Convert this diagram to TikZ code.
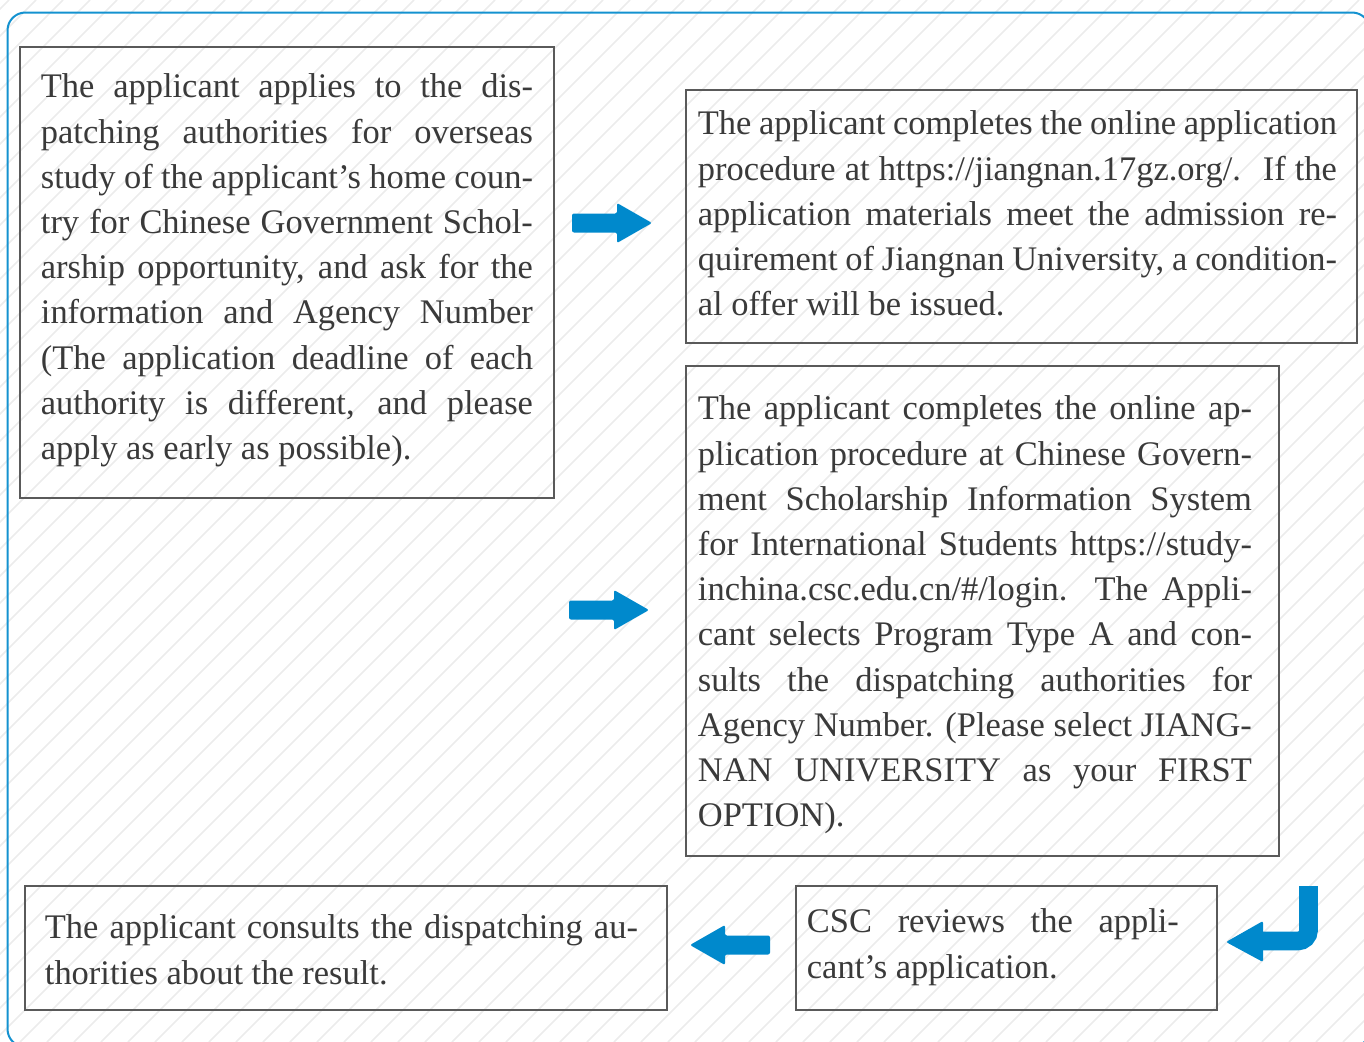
\documentclass[tikz,border=0pt]{standalone}
\usepackage{fontspec}
\setmainfont{Liberation Serif}
\definecolor{arrowblue}{RGB}{0,137,204}
\definecolor{frameblue}{RGB}{20,146,208}
\definecolor{boxgray}{RGB}{90,90,90}
\definecolor{textgray}{RGB}{58,58,58}
\definecolor{hatchgray}{RGB}{236,236,236}
\newlength{\rowwd}
\newcommand{\jrow}[1]{\leavevmode\hbox to\rowwd{\spaceskip=0pt\xspaceskip=0pt #1}\\}
\tikzset{
	stepbox/.style={draw=boxgray, line width=1.4pt, anchor=north west, inner ysep=0pt, align=flush left,
		text=textgray, font=\fontsize{25.85pt}{33.9pt}\selectfont},
	arrowfill/.style={fill=arrowblue, rounded corners=1.5pt},
	hatch/.style={draw=hatchgray, line width=1.1pt},
	goright/.pic={\fill[arrowfill] (0,-9.5) -- (45,-9.5) -- (45,-20) -- (80,0) -- (45,20) -- (45,9.5) -- (0,9.5) -- cycle;}
}

\begin{document}
\begin{tikzpicture}[x=0.75pt, y=-0.75pt]
	\useasboundingbox (0,0) rectangle (1364,1042);
	
	% Background hatching and frame
	\begin{scope}
		\clip (0,0) rectangle (1364,1042);
		\foreach \i in {-1060,-1033,...,1400}
			\draw[hatch] (\i,1042) -- ++(1042,-1042);
	\end{scope}
	\draw[frameblue, line width=1.5pt, rounded corners=13.5pt] (7.5,12.5) rectangle (1370,1047);
	
	% Steps
	\node[stepbox, text width=369pt, inner xsep=15.75pt, text height=38.25pt, text depth=300pt] (apply) at (19,46) {%
		\setlength{\rowwd}{369pt}%
		\jrow{The applicant applies to the dis-}
		\jrow{patching authorities for overseas}
		\jrow{study of the applicant's home coun-}
		\jrow{try for Chinese Government Schol-}
		\jrow{arship opportunity, and ask for the}
		\jrow{information and Agency Number}
		\jrow{(The application deadline of each}
		\jrow{authority is different, and please}
		apply as early as possible).};
	
	\node[stepbox, text width=485.25pt, inner xsep=9pt, text height=33.75pt, text depth=156pt] (online) at (685,89) {%
		\setlength{\rowwd}{479.25pt}%
		\jrow{The applicant completes the online application}
		\jrow{procedure at https://jiangnan.17gz.org/. \ If the}
		\jrow{application materials meet the admission re-}
		\jrow{quirement of Jiangnan University, a condition-}
		al offer will be issued.};
	
	\node[stepbox, text width=426.75pt, inner xsep=9pt, text height=40.5pt, text depth=327pt] (cscsys) at (685,365) {%
		\setlength{\rowwd}{415.5pt}%
		\jrow{The applicant completes the online ap-}
		\jrow{plication procedure at Chinese Govern-}
		\jrow{ment Scholarship Information System}
		\jrow{for International Students https://study-}
		\jrow{inchina.csc.edu.cn/\#/login. The Appli-}
		\jrow{cant selects Program Type A and con-}
		\jrow{sults the dispatching authorities for}
		\jrow{Agency Number. (Please select JIANG-}
		\jrow{NAN UNIVERSITY as your FIRST}
		OPTION).};
	
	\node[stepbox, text width=299.25pt, inner xsep=8.25pt, text height=35.25pt, text depth=57.75pt] (review) at (795,885) {%
		\setlength{\rowwd}{279pt}%
		\jrow{CSC reviews the appli-}
		cant's application.};
	
	\node[stepbox, text width=451.5pt, inner xsep=15pt, text height=39.75pt, text depth=53.25pt] (result) at (24,885) {%
		\setlength{\rowwd}{444.75pt}%
		\jrow{The applicant consults the dispatching au-}
		thorities about the result.};
	
	% Arrows
	\pic at (572,223) {goright};
	\pic at (569,610) {goright};
	\pic[xscale=-1] at (770,945) {goright};
	\draw[arrowblue, line width=14pt, rounded corners=8pt] (1308.5,886) -- (1308.5,941) -- (1258,941);
	\fill[arrowfill] (1263,921) -- (1226,942) -- (1263,962) -- cycle;
	
\end{tikzpicture}
\end{document}
